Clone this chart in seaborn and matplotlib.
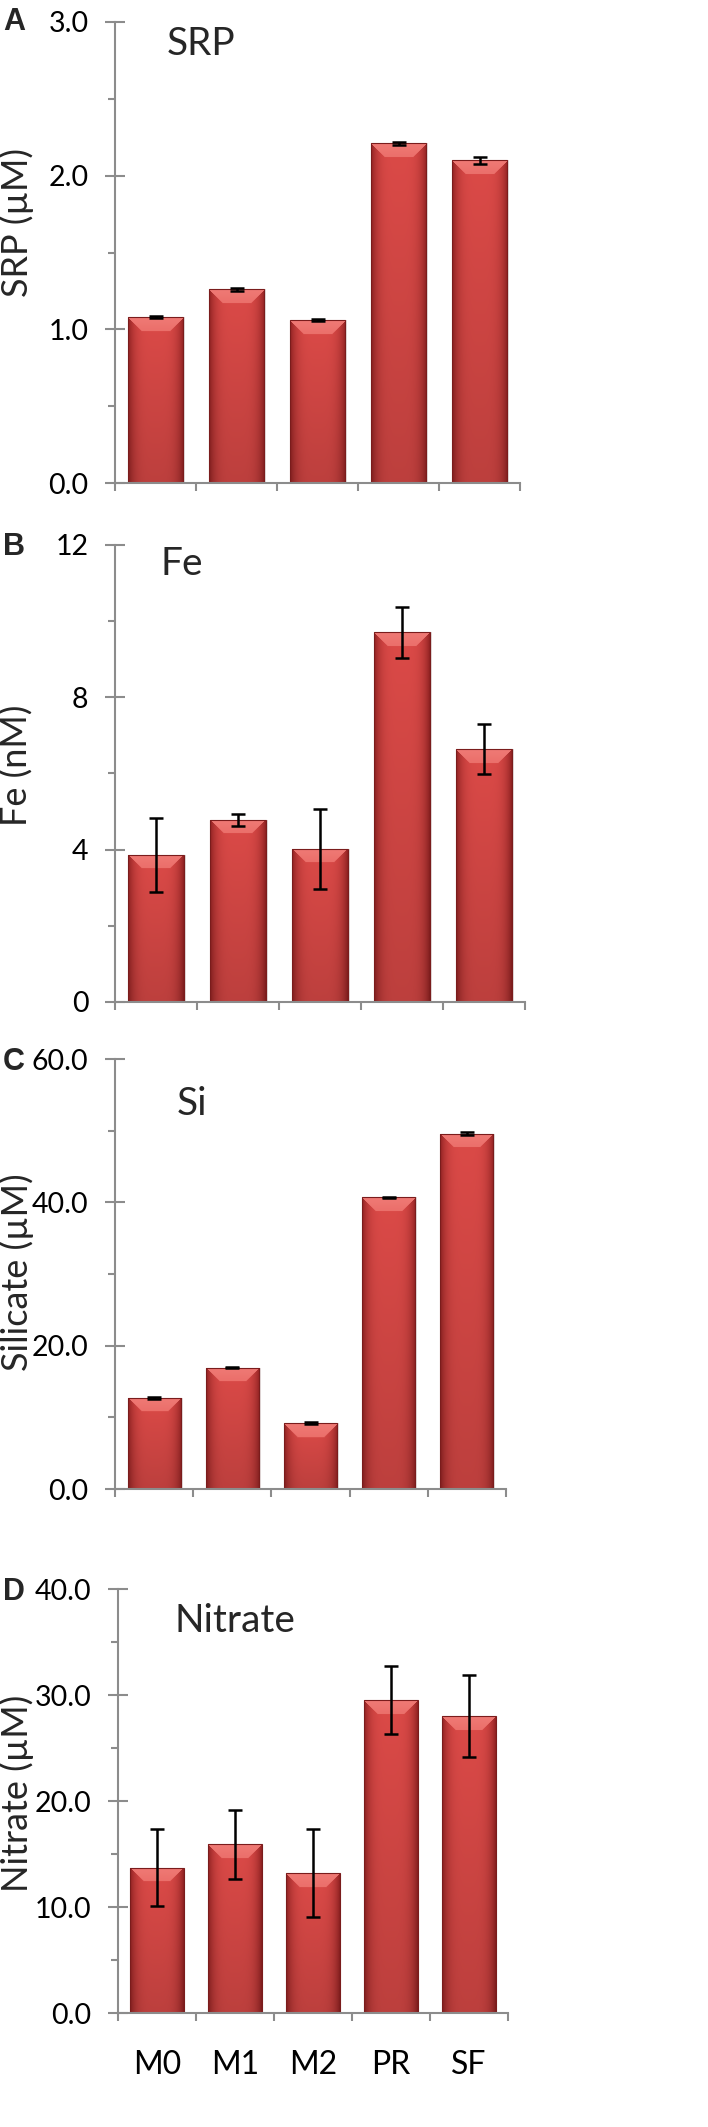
import numpy as np
import matplotlib
matplotlib.use("Agg")
import matplotlib.pyplot as plt
import seaborn as sns
from matplotlib.ticker import MultipleLocator, FixedLocator, FormatStrFormatter

# sampling sites
sites = ["M0", "M1", "M2", "PR", "SF"]

# panel A: soluble reactive phosphorus (uM)
srp = [1.08, 1.26, 1.06, 2.21, 2.10]
srp_err = [0.004, 0.011, 0.004, 0.012, 0.022]

# panel B: iron (nM)
fe = [3.86, 4.78, 4.02, 9.71, 6.64]
fe_err = [0.97, 0.16, 1.05, 0.67, 0.66]

# panel C: silicate (uM)
si = [12.7, 16.9, 9.2, 40.7, 49.6]
si_err = [0.08, 0.08, 0.15, 0.08, 0.22]

# panel D: nitrate (uM)
nitrate = [13.7, 15.9, 13.2, 29.5, 28.0]
nitrate_err = [3.65, 3.25, 4.15, 3.2, 3.85]

sns.set_style("white")
plt.rcParams["font.family"] = ["Lato", "DejaVu Sans"]

W, H = 708, 2127
fig = plt.figure(figsize=(W / 100, H / 100), dpi=100)

GREY = "#8c8c8c"

# (rect, values, errors, ymax, major, minor, fmt, ylabel, label_y, title, title_xy, letter, letter_ypx)
panels = [
    ([115 / W, 1 - 483 / H, 405 / W, 461 / H], srp, srp_err, 3.0, 1.0, 0.5, "%.1f",
     "SRP (\u00b5M)", 0.564, "SRP", (0.128, 0.928), "A", 22),
    ([115 / W, 1 - 1002 / H, 410 / W, 457 / H], fe, fe_err, 12, 4, 2, "%d",
     "Fe (nM)", 0.519, "Fe", (0.11, 0.934), "B", 547),
    ([115 / W, 1 - 1489 / H, 391 / W, 430 / H], si, si_err, 60.0, 20.0, 10.0, "%.1f",
     "Silicate (\u00b5M)", 0.505, "Si", (0.159, 0.870), "C", 1062),
    ([118 / W, 1 - 2013 / H, 390 / W, 424 / H], nitrate, nitrate_err, 40.0, 10.0, 5.0, "%.1f",
     "Nitrate (\u00b5M)", 0.519, "Nitrate", (0.146, 0.899), "D", 1592),
]


def shade_bars(ax):
    # Excel-like bevelled red bars: gradient image clipped to each bar
    c_mid = np.array([0.86, 0.29, 0.28])
    c_edge = np.array([0.58, 0.14, 0.14])
    c_hi = np.array([0.94, 0.48, 0.46])
    for p in list(ax.patches):
        x0, w, h = p.get_x(), p.get_width(), p.get_height()
        (px0, py0), (px1, py1) = ax.transData.transform([(x0, 0), (x0 + w, h)])
        nx = max(int(px1 - px0), 4)
        ny = max(int(py1 - py0), 4)
        t = np.linspace(-1, 1, nx)
        prof = 1 - np.abs(t) ** 4
        img = c_edge[None, None, :] + (c_mid - c_edge)[None, None, :] * prof[None, :, None]
        vert = np.linspace(1.0, 0.86, ny)[:, None, None]
        img = np.repeat(img, ny, axis=0) * vert
        bev = min(14, ny // 2)
        half = nx / 2
        cols = np.abs(np.arange(nx) - (nx - 1) / 2)
        for r in range(bev):
            inside = cols < half - r
            img[r, inside] = c_hi * (1 - 0.25 * r / bev) + c_mid * (0.25 * r / bev)
        img = np.clip(img, 0, 1)
        # soft shadow on the right-hand side
        ax.bar(x0 + w / 2 + 0.025, h, width=w, bottom=0, color="#b0a0a0", alpha=0.35,
               zorder=0.5, linewidth=0)
        im = ax.imshow(img, extent=[x0, x0 + w, 0, h], aspect="auto",
                       interpolation="bilinear", zorder=1)
        im.set_clip_path(p)
        p.set_facecolor("none")
        p.set_edgecolor("#7a1c1c")
        p.set_linewidth(0.8)
        p.set_zorder(2)


for i, (rect, vals, errs, ymax, major, minor, fmt, ylab, lab_y, title, txy, letter, lypx) in enumerate(panels):
    ax = fig.add_axes(rect)
    sns.barplot(x=sites, y=vals, ax=ax, width=0.68, color="#c93a38", saturation=1)
    ax.errorbar(range(len(sites)), vals, yerr=errs, fmt="none", ecolor="black",
                elinewidth=1.8, capsize=4.8, capthick=1.8, zorder=3)
    ax.set_ylim(0, ymax)
    ax.set_xlim(-0.5, len(sites) - 0.5)

    for side in ["top", "right"]:
        ax.spines[side].set_visible(False)
    for side in ["left", "bottom"]:
        ax.spines[side].set_color(GREY)
        ax.spines[side].set_linewidth(1.5)

    ax.yaxis.set_major_locator(MultipleLocator(major))
    ax.yaxis.set_minor_locator(MultipleLocator(minor))
    ax.yaxis.set_major_formatter(FormatStrFormatter(fmt))
    ax.tick_params(axis="y", which="major", direction="inout", length=14, width=1.5,
                   color=GREY, pad=12, labelsize=20.5, labelcolor="black", left=True)
    ax.tick_params(axis="y", which="minor", direction="out", length=5, width=1.5,
                   color=GREY, left=True)

    ax.xaxis.set_minor_locator(FixedLocator(np.arange(-0.5, len(sites), 1.0)))
    ax.tick_params(axis="x", which="minor", direction="out", length=6, width=1.5,
                   color=GREY, bottom=True)
    ax.tick_params(axis="x", which="major", length=0, pad=27, labelsize=23,
                   labelcolor="black", labelbottom=(i == len(panels) - 1))
    ax.set_xlabel("")

    ax.set_ylabel(ylab, fontsize=26, va="center")
    ax.yaxis.set_label_coords(-(rect[0] * W - 17) / (rect[2] * W), lab_y)

    ax.text(txy[0], txy[1], title, transform=ax.transAxes, fontsize=28,
            va="baseline", ha="left")
    fig.text(3 / W, 1 - lypx / H, letter, fontsize=22, fontweight="bold",
             family=["Liberation Sans", "DejaVu Sans"], va="center", ha="left")

fig.canvas.draw()
for ax in fig.axes:
    shade_bars(ax)
    ax.set_xlim(-0.5, len(sites) - 0.5)

fig.savefig("out.png", dpi=100)
